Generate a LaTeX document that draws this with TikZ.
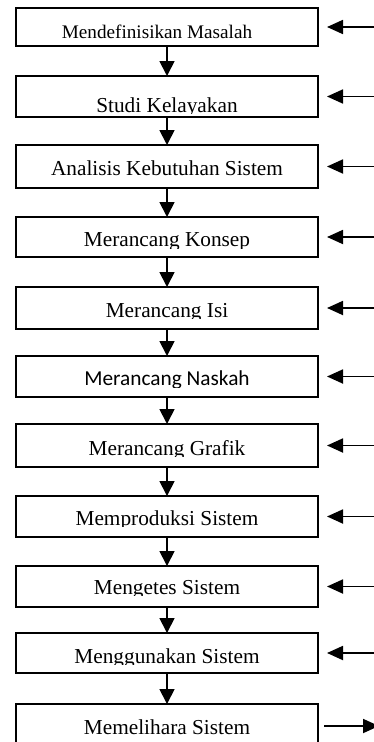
\documentclass[tikz,border=0pt]{standalone}
\usepackage{fontspec}
\setmainfont{Liberation Serif}
\newfontfamily\calibrifont{Carlito}
\usetikzlibrary{arrows.meta,calc}

\tikzset{
  stagebox/.style={draw, line width=1.8pt, minimum width=302pt, inner sep=0pt, outer sep=0pt},
  flow/.style={line width=1.8pt, -{Triangle[length=15pt,width=15pt]}},
  feed/.style={line width=1.8pt, -{Triangle[length=16pt,width=14pt]}},
  stagetext/.style={anchor=base, inner sep=0pt},
}

% #1 name, #2 top, #3 bottom, #4 text x, #5 baseline, #6 text clip line, #7 text
\newcommand\flowstage[7]{%
  \node[stagebox, minimum height={(#3-#2)*1pt}] (#1) at (167,{(#2+#3)/2}) {};
  \begin{scope}
    \clip (16,#2) rectangle (318,#6);
    \node[stagetext] at (#4,#5) {#7};
  \end{scope}
}

\newcommand\bigserif{\fontsize{21.3pt}{24pt}\selectfont}
\newcommand\smallserif{\fontsize{19.2pt}{22pt}\selectfont}

\begin{document}
\begin{tikzpicture}[x=1pt,y=-1pt]
  \useasboundingbox (0,0) rectangle (374,742);
  \clip (0,0) rectangle (374,742);

  \flowstage{b1}{8}{46}{157}{38}{46}{\smallserif Mendefinisikan Masalah}
  \flowstage{b2}{76}{117}{167}{112}{113.8}{\bigserif Studi Kelayakan}
  \flowstage{b3}{145}{188}{167}{175}{188}{\bigserif Analisis Kebutuhan Sistem}
  \flowstage{b4}{217}{257}{167}{246.7}{248.3}{\bigserif Merancang Konsep}
  \flowstage{b5}{287}{329}{167}{317}{318.5}{\bigserif Merancang Isi}
  \flowstage{b6}{356}{397}{167}{385.5}{387}{\calibrifont\bigserif Merancang Naskah}
  \flowstage{b7}{424}{467}{167}{455}{456.5}{\bigserif Merancang Grafik}
  \flowstage{b8}{496}{537}{167}{525}{526.5}{\bigserif Memproduksi Sistem}
  \flowstage{b9}{566}{607}{167}{594}{595.5}{\bigserif Mengetes Sistem}
  \flowstage{b10}{633}{673}{167}{663}{664.5}{\bigserif Menggunakan Sistem}
  \flowstage{b11}{704}{748}{167}{734}{748}{\bigserif Memelihara Sistem}

  % downward flow between stages
  \foreach \a/\b in {b1/b2,b2/b3,b3/b4,b4/b5,b5/b6,b6/b7,b7/b8,b8/b9,b9/b10,b10/b11}
    \draw[flow] (\a.south) -- (\b.north);

  % feedback arrows entering from the right
  \foreach \s in {b1,b2,b3,b4,b5,b6,b7,b8,b9,b10} {
    \coordinate (r-\s) at ($(\s.east)+(62,0)$);
    \draw[feed, shorten >=9pt] (r-\s) -- (\s.east);
  }

  % outgoing arrow from the last stage
  \coordinate (r-b11) at ($(b11.east)+(61,0)$);
  \draw[feed, shorten <=6pt] (b11.east) -- (r-b11);
\end{tikzpicture}
\end{document}
